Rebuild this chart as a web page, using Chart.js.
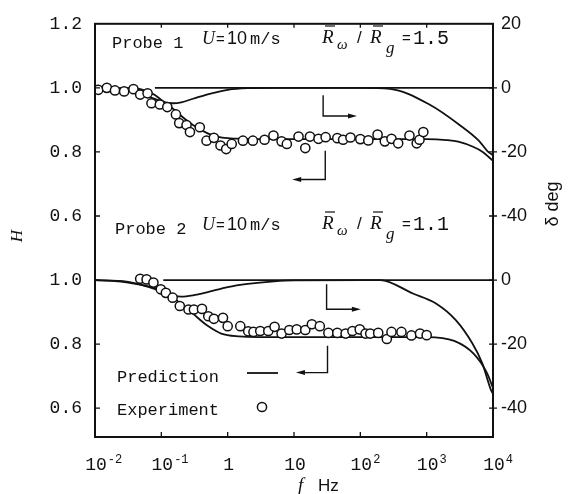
<!DOCTYPE html>
<html>
<head>
<meta charset="utf-8">
<script src="https://cdn.jsdelivr.net/npm/chart.js@4.4.1/dist/chart.umd.min.js"></script>
<style>
  html, body { margin: 0; padding: 0; background: #fff; }
</style>
</head>
<body>
<canvas id="chart" width="571" height="494"></canvas>
<script>
// x axis: frequency f, Hz (log)
const decades = [0.01, 0.1, 1, 10, 100, 1000, 10000];
const decadeBase = ["10", "10", "1", "10", "10", "10", "10"];
const decadeExp = ["-2", "-1", "", "", "2", "3", "4"];

// left axis H, right axis delta; the lower panel is drawn 0.6 (or 60 deg) further down
const hTicks = [1.2, 1.0, 0.8, 0.6, 0.4, 0.2, 0.0];
const hTickLabels = ["1.2", "1.0", "0.8", "0.6", "1.0", "0.8", "0.6"];
const dTicks = [20, 0, -20, -40, -60, -80, -100];
const dTickLabels = ["20", "0", "-20", "-40", "0", "-20", "-40"];
const lowerShiftH = 0.6;
const lowerShiftD = 60;

// Probe 1 - experiment
const p1ExpF = [0.0112, 0.0151, 0.020, 0.0275, 0.038, 0.048, 0.062, 0.071, 0.095, 0.123, 0.166, 0.186,
  0.24, 0.27, 0.38, 0.48, 0.62, 0.78, 0.95, 1.15, 1.7, 2.4, 3.6, 4.9, 6.5, 7.8, 11.7, 14.8, 17.4,
  23.4, 30, 45, 55, 71, 100, 132, 182, 234, 295, 372, 550, 708, 780, 890];
const p1ExpH = [0.994, 1.0, 0.992, 0.989, 0.996, 0.979, 0.983, 0.952, 0.948, 0.940, 0.917, 0.890,
  0.884, 0.862, 0.877, 0.835, 0.844, 0.820, 0.809, 0.825, 0.835, 0.835, 0.838, 0.851, 0.833, 0.825,
  0.848, 0.812, 0.848, 0.841, 0.846, 0.843, 0.838, 0.845, 0.840, 0.836, 0.854, 0.833, 0.841, 0.827,
  0.851, 0.827, 0.838, 0.862];
// Probe 1 - prediction
const p1HF = [0.01, 0.03, 0.05, 0.08, 0.1, 0.15, 0.2, 0.3, 0.5, 0.7, 1, 2, 10, 100, 1000, 2000, 3000, 5000, 7000, 10000];
const p1H = [1.0, 0.999, 0.995, 0.978, 0.962, 0.935, 0.912, 0.884, 0.858, 0.848, 0.843, 0.841, 0.840,
  0.840, 0.840, 0.837, 0.832, 0.816, 0.800, 0.772];
const p1DF = [0.01, 0.02, 0.04, 0.07, 0.1, 0.15, 0.2, 0.3, 0.5, 1, 2, 5, 100, 280, 1100, 3100, 6200, 8300, 10000];
const p1D = [0, -0.3, -1.2, -3.0, -4.2, -4.8, -4.5, -3.4, -2.0, -0.6, -0.1, 0, 0, -0.3, -5.2, -11.5, -16.6, -19.8, -21];
const p1RefF = [0.08, 10000];
const p1RefH = [1.0, 1.0];

// Probe 2 - experiment
const p2ExpF = [0.048, 0.060, 0.076, 0.098, 0.117, 0.148, 0.19, 0.257, 0.31, 0.41, 0.51, 0.62, 0.85,
  1.0, 1.55, 2.04, 2.45, 3.1, 4.1, 5.1, 6.5, 8.5, 11, 14.8, 18.6, 24.5, 33, 45, 60, 76, 98, 120, 141,
  186, 251, 295, 417, 589, 794, 1000];
const p2ExpH = [1.004, 1.002, 0.992, 0.971, 0.960, 0.945, 0.919, 0.908, 0.908, 0.910, 0.887, 0.879,
  0.882, 0.856, 0.856, 0.840, 0.838, 0.841, 0.841, 0.854, 0.833, 0.844, 0.846, 0.844, 0.862, 0.856,
  0.835, 0.835, 0.833, 0.841, 0.846, 0.833, 0.833, 0.835, 0.816, 0.838, 0.838, 0.827, 0.833, 0.828];
// Probe 2 - prediction
const p2HF = [0.01, 0.02, 0.03, 0.05, 0.08, 0.1, 0.15, 0.2, 0.3, 0.5, 0.8, 1.5, 3, 10, 100, 1000, 2600, 5100, 8100, 10000];
const p2H = [1.0, 0.997, 0.993, 0.985, 0.975, 0.968, 0.945, 0.925, 0.895, 0.857, 0.833, 0.824, 0.822,
  0.822, 0.822, 0.822, 0.810, 0.770, 0.710, 0.663];
const p2DF = [0.01, 0.03, 0.05, 0.1, 0.15, 0.2, 0.3, 0.5, 1, 2, 5, 10, 200, 620, 1380, 2750, 4900, 6900, 9300, 10000];
const p2D = [0, -0.5, -1.5, -3.5, -4.8, -5.2, -4.8, -3.8, -2.2, -1.2, -0.4, -0.1, 0, -4.2, -7.3, -12.5, -19.8, -26, -34.3, -35.5];
const p2RefF = [0.107, 10000];
const p2RefH = [1.0, 1.0];

// panel captions
const probeNames = ["Probe 1", "Probe 2"];
const ratioValues = ["1.5", "1.1"];

// direction arrows: [f of vertical stroke, f of tip], [H top, H corner], panel
const arrowF = [[27.5, 89], [29.6, 9.4], [31, 102], [32, 10.7]];
const arrowH = [[0.977, 0.912], [0.804, 0.714], [0.987, 0.909], [0.795, 0.711]];
const arrowPanel = [0, 0, 1, 1];

const MONO = '"Liberation Mono", "DejaVu Sans Mono", monospace';
const SANS = '"Liberation Sans", Arial, sans-serif';
const SERIF = '"Liberation Serif", "DejaVu Serif", serif';

function pts(fs, vs, shift) {
  return fs.map((f, i) => ({ x: f, y: vs[i] - shift }));
}

function lineSet(data, axis) {
  return {
    data: data, yAxisID: axis, showLine: true, borderColor: "#111", borderWidth: 1.8,
    pointRadius: 0, cubicInterpolationMode: "monotone", fill: false, order: 2
  };
}

function expSet(data) {
  return {
    data: data, yAxisID: "yH", showLine: false, pointStyle: "circle", pointRadius: 4.6,
    pointBorderWidth: 1.5, pointBorderColor: "#111", pointBackgroundColor: "#fff", order: 0
  };
}

const datasets = [
  expSet(pts(p1ExpF, p1ExpH, 0)),
  expSet(pts(p2ExpF, p2ExpH, lowerShiftH)),
  lineSet(pts(p1HF, p1H, 0), "yH"),
  lineSet(pts(p1DF, p1D, 0), "yD"),
  lineSet(pts(p1RefF, p1RefH, 0), "yH"),
  lineSet(pts(p2HF, p2H, lowerShiftH), "yH"),
  lineSet(pts(p2DF, p2D, lowerShiftD), "yD"),
  lineSet(pts(p2RefF, p2RefH, lowerShiftH), "yH")
];

function drawRich(ctx, parts) {
  parts.forEach(p => {
    ctx.font = p.font;
    ctx.textAlign = p.align || "left";
    ctx.fillText(p.t, p.x, p.y);
    if (p.bar) {
      ctx.lineWidth = 1.2;
      ctx.beginPath();
      ctx.moveTo(p.x + 3, p.y - 17);
      ctx.lineTo(p.x + 13, p.y - 17);
      ctx.stroke();
    }
  });
}

const decorations = {
  id: "decorations",
  beforeDraw(chart) {
    const ctx = chart.ctx;
    ctx.save();
    ctx.fillStyle = "#fff";
    ctx.fillRect(0, 0, chart.width, chart.height);
    ctx.restore();
  },
  afterDraw(chart) {
    const ctx = chart.ctx;
    const a = chart.chartArea;
    const xs = chart.scales.x, yH = chart.scales.yH, yD = chart.scales.yD;
    ctx.save();
    ctx.strokeStyle = "#111";
    ctx.fillStyle = "#111";

    // frame
    ctx.lineWidth = 2;
    ctx.strokeRect(a.left, a.top, a.right - a.left, a.bottom - a.top);

    // tick marks
    ctx.lineWidth = 1.3;
    ctx.beginPath();
    decades.slice(1, -1).forEach(f => {
      const x = xs.getPixelForValue(f);
      ctx.moveTo(x, a.bottom); ctx.lineTo(x, a.bottom - 5);
      ctx.moveTo(x, a.top); ctx.lineTo(x, a.top + 4);
    });
    hTicks.slice(1).forEach(v => {
      const y = yH.getPixelForValue(v);
      ctx.moveTo(a.left, y); ctx.lineTo(a.left + 5, y);
    });
    dTicks.slice(1).forEach(v => {
      const y = yD.getPixelForValue(v);
      ctx.moveTo(a.right - 4, y); ctx.lineTo(a.right + 4, y);
    });
    ctx.stroke();

    // x tick labels with superscripts
    ctx.textBaseline = "alphabetic";
    decades.forEach((f, i) => {
      const x = xs.getPixelForValue(f);
      ctx.font = "18px " + MONO;
      ctx.textAlign = "center";
      ctx.fillText(decadeBase[i], x + 1, 470);
      if (decadeExp[i]) {
        const w = ctx.measureText(decadeBase[i]).width;
        ctx.font = "12px " + MONO;
        ctx.textAlign = "left";
        ctx.fillText(decadeExp[i], x + 1 + w / 2 + 1, 463);
      }
    });

    // axis titles
    drawRich(ctx, [
      { t: "f", x: 298, y: 491, font: "italic 19px " + SERIF },
      { t: "Hz", x: 318, y: 491, font: "17px " + SANS }
    ]);
    ctx.save();
    ctx.translate(22, 236);
    ctx.rotate(-Math.PI / 2);
    ctx.font = "italic 17px " + SERIF;
    ctx.textAlign = "center";
    ctx.fillText("H", 0, 0);
    ctx.restore();
    ctx.save();
    ctx.translate(558, 204);
    ctx.rotate(-Math.PI / 2);
    ctx.font = "18px " + SANS;
    ctx.textAlign = "center";
    ctx.fillText("\u03b4 deg", 0, 0);
    ctx.restore();

    // panel captions
    probeNames.forEach((name, k) => {
      const y = 47 + k * 186;
      drawRich(ctx, [
        { t: name, x: 112 + k * 3, y: y + 1, font: "17px " + MONO },
        { t: "U", x: 202, y: y - 3, font: "italic 18px " + SERIF },
        { t: "=", x: 216, y: y - 3, font: "15px " + SANS },
        { t: "10", x: 227, y: y - 3, font: "18px " + SANS },
        { t: "m/s", x: 250, y: y - 3, font: "17px " + MONO },
        { t: "R", x: 322, y: y - 4, font: "italic 19px " + SERIF, bar: true },
        { t: "\u03c9", x: 337, y: y + 2, font: "italic 15px " + SERIF },
        { t: "/", x: 357, y: y - 4, font: "17px " + SANS },
        { t: "R", x: 370, y: y - 4, font: "italic 19px " + SERIF, bar: true },
        { t: "g", x: 386, y: y + 6, font: "italic 17px " + SERIF },
        { t: "=", x: 402, y: y - 4, font: "15px " + SANS },
        { t: ratioValues[k], x: 413, y: y - 3, font: "20px " + MONO }
      ]);
    });

    // legend
    drawRich(ctx, [
      { t: "Prediction", x: 117, y: 382, font: "17px " + MONO },
      { t: "Experiment", x: 117, y: 415, font: "17px " + MONO }
    ]);
    ctx.lineWidth = 1.8;
    ctx.beginPath();
    ctx.moveTo(247, 373); ctx.lineTo(278, 373);
    ctx.stroke();
    ctx.lineWidth = 1.5;
    ctx.beginPath();
    ctx.arc(262, 407, 4.6, 0, Math.PI * 2);
    ctx.stroke();

    // arrows pointing to the axis each curve belongs to
    ctx.lineWidth = 1.4;
    arrowF.forEach((af, i) => {
      const shift = arrowPanel[i] ? lowerShiftH : 0;
      const x0 = xs.getPixelForValue(af[0]);
      const x1 = xs.getPixelForValue(af[1]);
      const y0 = yH.getPixelForValue(arrowH[i][0] - shift);
      const y1 = yH.getPixelForValue(arrowH[i][1] - shift);
      const dir = Math.sign(x1 - x0);
      ctx.beginPath();
      ctx.moveTo(x0, y0); ctx.lineTo(x0, y1); ctx.lineTo(x1 - dir * 6, y1);
      ctx.stroke();
      ctx.beginPath();
      ctx.moveTo(x1, y1);
      ctx.lineTo(x1 - dir * 9, y1 - 2.5);
      ctx.lineTo(x1 - dir * 9, y1 + 2.5);
      ctx.closePath();
      ctx.fill();
    });
    ctx.restore();
  }
};

new Chart(document.getElementById("chart"), {
  type: "scatter",
  data: { datasets: datasets },
  options: {
    responsive: false,
    animation: false,
    layout: { padding: { top: 20, left: 0, right: 0, bottom: 0 } },
    plugins: { legend: { display: false }, tooltip: { enabled: false } },
    scales: {
      x: {
        type: "logarithmic", min: 0.01, max: 10000,
        grid: { display: false, drawTicks: false }, border: { display: false },
        ticks: { display: false },
        afterFit: s => { s.height = 57; }
      },
      yH: {
        position: "left", min: -0.09, max: 1.2,
        grid: { display: false, drawTicks: false }, border: { display: false },
        afterBuildTicks: s => { s.ticks = hTicks.map(v => ({ value: v })); },
        ticks: {
          padding: 13, color: "#111", font: { family: MONO, size: 18 },
          callback: v => hTickLabels[hTicks.findIndex(t => Math.abs(t - v) < 1e-6)]
        },
        afterFit: s => { s.width = 95; }
      },
      yD: {
        position: "right", min: -109, max: 20,
        grid: { display: false, drawTicks: false }, border: { display: false },
        afterBuildTicks: s => { s.ticks = dTicks.map(v => ({ value: v })); },
        ticks: {
          padding: 8, color: "#111", font: { family: SANS, size: 18 },
          callback: v => dTickLabels[dTicks.findIndex(t => Math.abs(t - v) < 1e-6)]
        },
        afterFit: s => { s.width = 78; }
      }
    }
  },
  plugins: [decorations]
});
</script>
</body>
</html>
